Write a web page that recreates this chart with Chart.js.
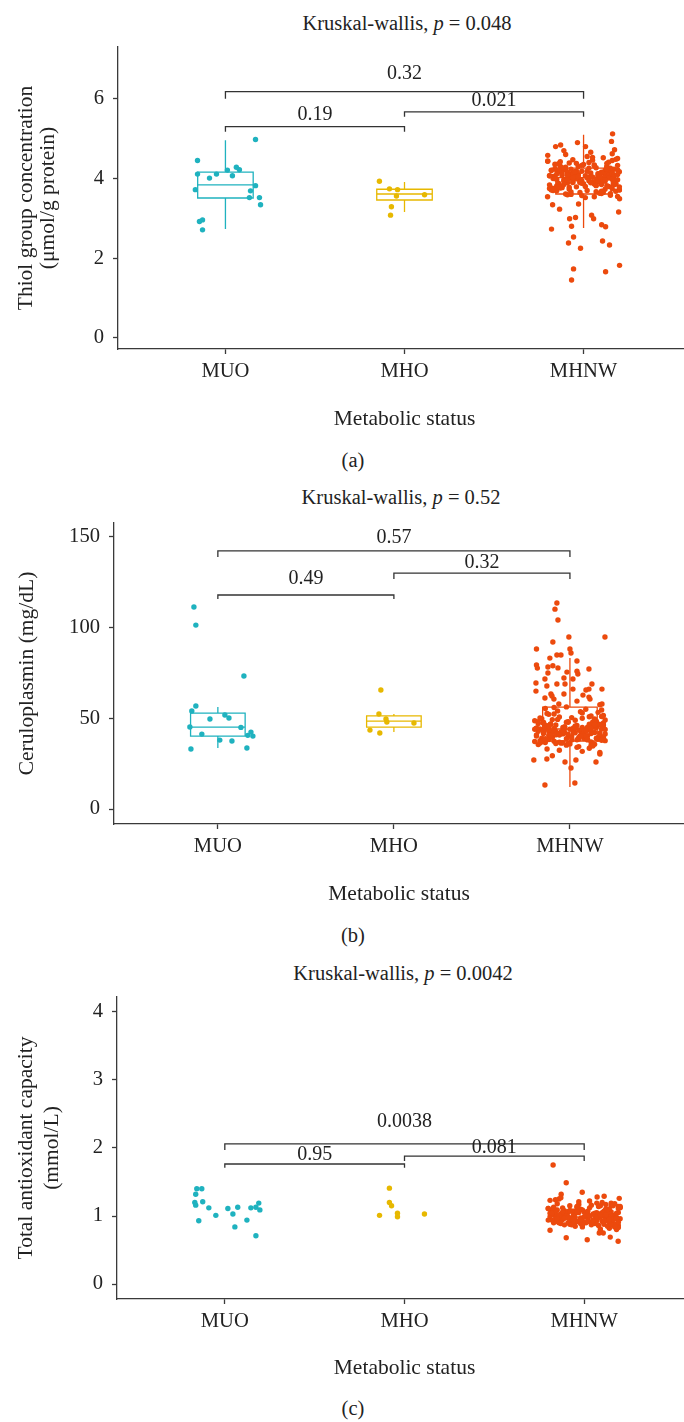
<!DOCTYPE html>
<html>
<head>
<meta charset="utf-8">
<script src="https://cdn.jsdelivr.net/npm/chart.js@4.4.1/dist/chart.umd.min.js"></script>
<style>
  html, body { margin: 0; background: #fff; overflow: hidden; }
  body { width: 684px; height: 1422px; position: relative; font-family: "Liberation Serif", serif; color: #222; }
  .t { position: absolute; font-size: 20.5px; line-height: 24px; white-space: nowrap; transform: translateX(-50%); }
  canvas { position: absolute; left: 0; }
</style>
</head>
<body>
<div class="t" style="left:407px; top:11px">Kruskal-wallis, <i>p</i> = 0.048</div>
<div class="t" style="left:353px; top:448px">(a)</div>
<div class="t" style="left:401px; top:485px">Kruskal-wallis, <i>p</i> = 0.52</div>
<div class="t" style="left:353px; top:923px">(b)</div>
<div class="t" style="left:403px; top:961px">Kruskal-wallis, <i>p</i> = 0.0042</div>
<div class="t" style="left:353px; top:1396px">(c)</div>

<canvas id="chart_thiol" width="700" height="440" style="top:0px"></canvas>
<canvas id="chart_cerulo" width="700" height="440" style="top:480px"></canvas>
<canvas id="chart_tac" width="700" height="440" style="top:950px"></canvas>

<script>
const GROUPS = ['MUO', 'MHO', 'MHNW'];
const COLORS = ['#1FB2BF', '#E7B800', '#EC4A0D'];
const INK = '#222';
const AXIS = '#3a3a3a';

// horizontal jitter used for the dense MHNW cloud (category units)
const JITTER = [
  -0.17, 0.05, 0.12, -0.08, 0.19, -0.02, 0.09, -0.14, 0.16, -0.11,
  0.02, 0.20, -0.05, 0.13, -0.19, 0.07, -0.09, 0.15, -0.01, 0.11,
  -0.15, 0.04, 0.18, -0.12, 0.08, -0.06, 0.14, -0.18, 0.01, 0.10,
  -0.03, 0.17, -0.13, 0.06, -0.20, 0.12, -0.07, 0.03, 0.19, -0.10,
  0.09, -0.16, 0.14, -0.04, 0.07, -0.12, 0.18, 0.00, -0.08, 0.15,
  -0.19, 0.11, -0.02, 0.16, -0.14, 0.05, -0.10, 0.13, -0.06, 0.20,
  0.03, -0.17, 0.08, -0.09, 0.17, -0.01, 0.12, -0.15, 0.06, -0.04,
  0.14, -0.11, 0.19, -0.07, 0.02, -0.18, 0.10, -0.03, 0.16, -0.13,
  0.07, -0.20, 0.13, -0.05, 0.09, -0.16, 0.18, -0.08, 0.04, -0.12,
  0.15, -0.01, 0.11, -0.14, 0.20, -0.06, 0.01, -0.19, 0.08, -0.10,
  0.17, -0.03, 0.05, -0.15, 0.12, -0.09, 0.19, -0.12, 0.02, -0.17,
  0.10, -0.07, 0.14, -0.02, 0.06, -0.13, 0.16, -0.05, 0.18, -0.11,
  -0.04, 0.13, -0.18, 0.09, -0.08, 0.03, -0.16, 0.15, -0.01, 0.07,
  -0.12, 0.19, -0.06, 0.11, -0.20, 0.04, -0.09, 0.17, -0.14, 0.00,
  0.12, -0.15, 0.06, -0.03, 0.18, -0.10, 0.08, -0.17, 0.14, -0.07,
  0.01, -0.13, 0.16, -0.05, 0.10, -0.19, 0.13, -0.02, 0.05, -0.11,
  0.19, -0.08, 0.03, -0.16, 0.11, -0.04, 0.15, -0.12, 0.07, -0.18,
  0.09, -0.06, 0.17, -0.14, 0.02, -0.09, 0.12, -0.01, 0.20, -0.15
];

// ---- (a) thiol group concentration ----
const THIOL_TICKS = [0, 2, 4, 6];
const THIOL_MUO_X = [0.168, -0.156, -0.156, -0.089, -0.05, 0.011, 0.039, 0.061, 0.078, -0.168, 0.168, 0.14, 0.134, 0.19, 0.196, -0.145, -0.128, -0.128];
const THIOL_MUO = [4.98, 4.45, 4.11, 4.01, 4.11, 4.21, 4.07, 4.28, 4.22, 3.72, 3.82, 3.69, 3.52, 3.52, 3.34, 2.92, 2.96, 2.71];
const THIOL_MHO_X = [-0.14, -0.084, -0.039, -0.045, 0.112, -0.073, -0.078];
const THIOL_MHO = [3.93, 3.74, 3.72, 3.56, 3.59, 3.29, 3.08];
const THIOL_MHNW_X = [-0.179, -0.173, -0.134, -0.078, -0.045, -0.067, -0.056, -0.084, -0.017, -0.028, 0.045, 0.056, 0.101, 0.123, 0.106, 0.145, 0.196, 0.201, -0.056, -0.067, 0.123, 0.201, -0.201, 0.162, 0.156, -0.034, -0.128, -0.156, 0.173, 0.011];
const THIOL_MHNW = [2.73, 3.34, 3.23, 2.99, 3.02, 2.80, 2.53, 2.38, 2.25, 3.36, 3.08, 2.99, 2.84, 2.79, 2.43, 2.33, 3.16, 3.49, 1.73, 1.45, 1.66, 1.82, 3.54, 5.12, 4.93, 4.90, 4.84, 4.80, 4.72, 4.80];
const THIOL_MHNW_CORE = [
  4.05, 3.92, 4.21, 3.78, 4.33, 3.65, 4.12, 3.88, 4.45, 3.97,
  4.18, 3.71, 4.02, 4.38, 3.84, 4.27, 3.59, 4.09, 3.95, 4.52,
  3.81, 4.14, 3.68, 4.24, 4.01, 3.90, 4.41, 3.76, 4.07, 3.62,
  4.30, 3.99, 4.16, 3.86, 4.58, 3.73, 4.11, 4.03, 3.55, 4.22,
  3.94, 4.36, 3.80, 4.19, 3.67, 4.08, 4.48, 3.87, 4.00, 4.26,
  3.75, 4.13, 3.96, 4.62, 3.83, 4.04, 3.61, 4.29, 3.91, 4.17,
  4.40, 3.70, 4.06, 3.89, 4.23, 3.57, 4.10, 3.98, 4.34, 3.79,
  4.15, 3.93, 4.50, 3.66, 4.02, 4.20, 3.85, 4.09, 3.74, 4.31,
  3.97, 4.43, 3.82, 4.12, 3.63, 4.25, 3.95, 4.05, 4.66, 3.77,
  4.19, 3.88, 4.01, 4.37, 3.72, 4.14, 3.52, 4.07, 3.92, 4.28,
  3.84, 4.10, 4.46, 3.69, 4.03, 3.96, 4.22, 3.81, 4.55, 4.00,
  4.16, 3.60, 4.08, 3.90, 4.32, 3.76, 4.13, 4.04, 3.86, 4.70,
  3.99, 4.24, 3.71, 4.11, 4.39, 3.94, 4.06, 3.58, 4.18, 3.83,
  4.27, 3.97, 4.02, 3.65, 4.44, 3.89, 4.15, 4.09, 3.78, 4.35,
  3.93, 4.20, 3.54, 4.05, 3.87, 4.60, 4.12, 3.75, 4.01, 4.23,
  3.80, 4.42, 3.98, 4.17, 3.68, 4.07, 4.30, 3.91, 4.53, 3.85,
  4.10, 3.73, 4.26, 4.00, 3.95, 4.38, 3.62, 4.14, 3.82, 4.21,
  4.04, 4.47, 3.88, 4.19, 3.70, 4.08, 3.96, 4.33, 3.79, 4.11
];
// [lower whisker, Q1, median, Q3, upper whisker]
const THIOL_BOX = [[2.73, 3.51, 3.84, 4.16, 4.96], [3.16, 3.46, 3.61, 3.73, 3.91], [2.76, 3.61, 4.02, 4.26, 5.10]];
const THIOL_PAIRS = [
  { from: 1, to: 3, y: 6.18, tip: 6.0, ly: 6.63, p: '0.32' },
  { from: 1, to: 2, y: 5.30, tip: 5.17, ly: 5.60, p: '0.19' },
  { from: 2, to: 3, y: 5.67, tip: 5.55, ly: 5.95, p: '0.021' }
];

// ---- (b) ceruloplasmin ----
const CERULO_TICKS = [0, 50, 100, 150];
const CERULO_MUO_X = [-0.136, -0.125, 0.148, -0.125, -0.148, -0.045, 0.04, 0.063, -0.159, 0.131, -0.091, 0.188, 0.17, 0.199, 0.011, 0.08, -0.153, 0.165];
const CERULO_MUO = [111.4, 101.4, 73.3, 56.8, 54.0, 49.6, 51.8, 50.2, 45.2, 45.0, 41.3, 42.4, 40.6, 40.2, 38.0, 37.5, 33.1, 33.6];
const CERULO_MHO_X = [-0.074, -0.085, -0.045, -0.04, 0.114, -0.136, -0.08];
const CERULO_MHO = [65.6, 52.4, 49.6, 48.0, 47.4, 43.5, 41.9];
const CERULO_MHNW_X = [-0.074, -0.085, -0.068, -0.006, 0.199, -0.097, -0.19, 0.0, 0.006, -0.074, -0.051, -0.114, 0.04, -0.19, -0.185, -0.125, -0.097, -0.068, 0.108, -0.017, 0.04, 0.045, -0.125, -0.142, -0.034, 0.017, -0.193, -0.193, -0.131, -0.074, -0.028, 0.125, 0.017, 0.091, 0.108, 0.182, -0.108, -0.102, -0.034, -0.142, -0.091, 0.04, 0.074, 0.108, 0.114, 0.182, 0.17, -0.063, -0.205, -0.131, -0.028, 0.034, 0.148, 0.006, -0.142, 0.028];
const CERULO_MHNW = [113.6, 110.2, 104.2, 94.8, 94.8, 92.1, 88.2, 88.2, 86.0, 84.9, 84.9, 83.2, 81.6, 79.4, 77.7, 78.3, 79.0, 77.8, 77.2, 75.5, 76.0, 74.4, 75.0, 71.7, 72.2, 71.7, 69.5, 65.0, 67.8, 68.9, 68.9, 68.9, 66.1, 65.6, 66.1, 66.1, 63.4, 62.3, 63.4, 61.2, 60.6, 59.5, 62.8, 61.7, 60.6, 57.9, 57.5, 57.9, 27.0, 27.6, 25.9, 27.0, 25.9, 22.6, 13.2, 14.3];
const CERULO_MHNW_CORE = [
  44.2, 38.6, 51.3, 41.0, 47.5, 35.2, 43.1, 55.4, 39.3, 46.7,
  42.4, 49.1, 36.3, 45.6, 40.2, 53.0, 37.4, 44.8, 48.2, 33.5,
  41.7, 46.1, 39.8, 52.2, 43.6, 36.9, 47.0, 42.9, 50.4, 38.1,
  45.3, 31.2, 44.5, 40.6, 48.7, 37.0, 54.1, 42.0, 46.4, 39.5,
  43.3, 49.8, 35.7, 41.4, 45.0, 38.3, 51.0, 44.0, 36.1, 47.2,
  40.9, 43.8, 56.3, 39.0, 46.0, 34.4, 42.6, 48.0, 41.2, 37.7,
  45.8, 50.2, 38.9, 44.4, 30.3, 47.8, 41.6, 43.0, 53.6, 36.5,
  42.2, 46.9, 39.6, 49.4, 44.7, 35.5, 40.4, 45.2, 38.4, 52.7,
  43.5, 37.2, 47.4, 41.8, 55.0, 39.1, 44.1, 46.3, 34.0, 42.7,
  48.4, 40.0, 45.5, 36.7, 43.9, 50.7, 38.0, 44.6, 41.1, 29.4,
  46.6, 42.1, 39.4, 47.6, 35.0, 44.3, 51.6, 40.7, 43.4, 37.6,
  45.1, 41.5, 49.6, 38.7, 43.2, 33.1, 46.2, 42.5, 54.6, 39.7,
  44.9, 36.0, 47.1, 40.3, 42.8, 48.9, 37.3, 45.7, 41.3, 50.0,
  43.7, 39.2, 32.4, 46.8, 44.0, 38.2, 52.4, 41.9, 45.4, 35.9,
  42.3, 47.3, 40.1, 44.2, 37.9, 49.3, 43.0, 36.4, 46.5, 41.6,
  39.9, 45.9, 53.3, 42.4, 38.5, 44.5, 34.7, 47.9, 43.6, 40.5,
  46.1, 41.0, 44.8, 37.1, 50.9, 42.8, 39.0, 45.3, 31.8, 48.1,
  43.1, 40.8, 46.6, 38.8, 42.0, 56.0, 44.4, 36.2, 41.4, 47.7
];
const CERULO_BOX = [[33.6, 40.2, 45.2, 52.9, 56.2], [42.4, 45.2, 48.5, 51.3, 52.4], [12.1, 37.5, 44.1, 56.2, 83.2]];
const CERULO_PAIRS = [
  { from: 1, to: 3, y: 142.3, tip: 139.0, ly: 149.4, p: '0.57' },
  { from: 1, to: 2, y: 118.0, tip: 115.8, ly: 126.8, p: '0.49' },
  { from: 2, to: 3, y: 130.1, tip: 126.8, ly: 135.7, p: '0.32' }
];

// ---- (c) total antioxidant capacity ----
const TAC_TICKS = [0, 1, 2, 3, 4];
const TAC_MUO_X = [-0.156, -0.128, -0.162, -0.167, -0.162, -0.123, -0.089, -0.05, -0.145, 0.017, 0.045, 0.072, 0.056, 0.123, 0.145, 0.173, 0.189, 0.195, 0.173];
const TAC_MUO = [1.40, 1.40, 1.32, 1.20, 1.16, 1.21, 1.12, 1.01, 0.93, 1.11, 1.03, 1.13, 0.84, 0.94, 1.12, 1.13, 1.19, 1.09, 0.71];
const TAC_MHO_X = [-0.084, -0.084, -0.072, -0.039, -0.039, -0.139, 0.111];
const TAC_MHO = [1.41, 1.20, 1.15, 1.04, 0.99, 1.01, 1.03];
const TAC_MHNW_X = [-0.173, -0.1, -0.128, -0.011, 0.195, 0.072, 0.111, -0.1, 0.017, 0.189, 0.145, 0.106, 0.084];
const TAC_MHNW = [1.75, 1.49, 1.32, 1.35, 1.26, 1.28, 1.29, 0.68, 0.65, 0.63, 0.69, 0.75, 0.75];
const TAC_MHNW_CORE = [
  1.02, 0.94, 1.10, 0.88, 1.05, 0.97, 1.15, 0.91, 1.01, 1.08,
  0.96, 1.12, 0.85, 1.03, 0.99, 1.19, 0.90, 1.06, 0.93, 1.00,
  1.09, 0.87, 1.04, 0.95, 1.14, 0.98, 0.82, 1.07, 1.01, 0.92,
  1.17, 0.96, 1.03, 0.89, 1.11, 1.00, 0.94, 1.22, 0.86, 1.05,
  0.99, 1.08, 0.91, 1.13, 0.97, 1.02, 0.80, 1.06, 0.95, 1.16,
  1.04, 0.88, 1.10, 0.98, 1.25, 0.93, 1.01, 0.85, 1.07, 0.96,
  1.12, 0.90, 1.03, 0.99, 0.84, 1.09, 0.95, 1.18, 1.00, 0.92,
  1.06, 0.97, 1.14, 0.87, 1.02, 0.94, 1.20, 1.05, 0.89, 1.01,
  0.93, 1.11, 0.98, 1.04, 0.78, 1.08, 0.96, 1.15, 0.91, 1.03,
  1.00, 0.86, 1.07, 0.95, 1.13, 1.01, 0.90, 1.23, 0.97, 1.05,
  0.88, 1.09, 0.94, 1.02, 1.17, 0.99, 0.83, 1.06, 0.92, 1.12,
  1.04, 0.96, 1.10, 0.89, 1.01, 1.27, 0.95, 1.07, 0.98, 0.87,
  1.14, 0.93, 1.03, 0.81, 1.08, 1.00, 0.96, 1.19, 0.90, 1.05,
  0.97, 1.11, 0.88, 1.02, 0.94, 1.16, 1.06, 0.85, 1.01, 0.99,
  1.09, 0.92, 1.04, 1.21, 0.96, 1.00, 0.86, 1.13, 0.95, 1.07,
  1.02, 0.89, 1.15, 0.98, 1.05, 0.79, 1.10, 0.94, 1.03, 0.97,
  0.91, 1.08, 1.00, 1.24, 0.93, 1.06, 0.87, 1.12, 0.99, 1.04,
  1.01, 0.95, 1.18, 0.90, 1.07, 0.98, 1.02, 0.84, 1.14, 0.96
];
const TAC_PAIRS = [
  { from: 1, to: 3, y: 2.06, tip: 1.97, ly: 2.38, p: '0.0038' },
  { from: 1, to: 2, y: 1.765, tip: 1.71, ly: 1.90, p: '0.95' },
  { from: 2, to: 3, y: 1.88, tip: 1.81, ly: 2.00, p: '0.081' }
];

Chart.defaults.font.family = '"Liberation Serif", "Times New Roman", serif';
Chart.defaults.color = INK;

function jittered(cat, dx, ys) {
  return ys.map((v, i) => ({ x: cat + dx[i], y: v }));
}

// boxes under the points, significance brackets on top
const overlay = {
  id: 'overlay',
  beforeDatasetsDraw(chart, args, opts) {
    if (!opts.boxes) return;
    const { ctx, scales: { x, y } } = chart;
    ctx.save();
    ctx.lineWidth = 1.3;
    opts.boxes.forEach((b, i) => {
      const cx = x.getPixelForValue(i + 1);
      const hw = x.getPixelForValue(i + 1.155) - cx;
      const [lo, q1, med, q3, hi] = b.map(v => y.getPixelForValue(v));
      ctx.strokeStyle = COLORS[i];
      ctx.beginPath();
      ctx.rect(cx - hw, q3, hw * 2, q1 - q3);
      ctx.moveTo(cx - hw, med); ctx.lineTo(cx + hw, med);
      ctx.moveTo(cx, q3); ctx.lineTo(cx, hi);
      ctx.moveTo(cx, q1); ctx.lineTo(cx, lo);
      ctx.stroke();
    });
    ctx.restore();
  },
  afterDatasetsDraw(chart, args, opts) {
    const { ctx, scales: { x, y } } = chart;
    ctx.save();
    ctx.strokeStyle = '#333';
    ctx.lineWidth = 1.3;
    ctx.fillStyle = INK;
    ctx.font = '20px "Liberation Serif", serif';
    ctx.textAlign = 'center';
    ctx.textBaseline = 'middle';
    opts.pairs.forEach(s => {
      const x1 = x.getPixelForValue(s.from), x2 = x.getPixelForValue(s.to);
      const yl = y.getPixelForValue(s.y), yt = y.getPixelForValue(s.tip);
      ctx.beginPath();
      ctx.moveTo(x1, yt); ctx.lineTo(x1, yl); ctx.lineTo(x2, yl); ctx.lineTo(x2, yt);
      ctx.stroke();
      ctx.fillText(s.p, (x1 + x2) / 2, y.getPixelForValue(s.ly));
    });
    ctx.restore();
  }
};

function drawPanel(id, cfg) {
  new Chart(document.getElementById(id), {
    type: 'scatter',
    data: {
      datasets: cfg.sets.map((pts, i) => ({
        label: GROUPS[i],
        data: pts,
        backgroundColor: COLORS[i],
        borderWidth: 0,
        pointRadius: 2.7,
        pointHoverRadius: 2.7,
        clip: false
      }))
    },
    options: {
      responsive: false,
      animation: false,
      devicePixelRatio: 1,
      layout: { padding: { top: cfg.padTop, bottom: cfg.padBottom, left: 0, right: cfg.padRight } },
      plugins: {
        legend: { display: false },
        tooltip: { enabled: false },
        overlay: { boxes: cfg.boxes, pairs: cfg.pairs }
      },
      scales: {
        x: {
          type: 'linear',
          min: cfg.xMin,
          max: cfg.xMax,
          afterBuildTicks: s => { s.ticks = [1, 2, 3].map(v => ({ value: v })); },
          afterFit: s => { s.height = cfg.xH; },
          ticks: { callback: v => GROUPS[v - 1], padding: 5, color: INK, font: { size: 20.6 }, maxRotation: 0 },
          grid: { drawOnChartArea: false, tickLength: 5, tickColor: AXIS, tickWidth: 1.3 },
          border: { color: AXIS, width: 1.3 },
          title: { display: true, text: 'Metabolic status', color: INK, font: { size: 21.5 }, padding: 0 }
        },
        y: {
          min: cfg.yMin,
          max: cfg.yMax,
          afterBuildTicks: s => { s.ticks = cfg.ticks.map(v => ({ value: v })); },
          afterFit: s => { s.width = cfg.yW; },
          ticks: { padding: 9, color: INK, font: { size: 20.6 } },
          grid: { drawOnChartArea: false, tickLength: 5, tickColor: AXIS, tickWidth: 1.3 },
          border: { color: AXIS, width: 1.3 },
          title: {
            display: true, text: cfg.yTitle, color: INK,
            font: { size: 21.5, lineHeight: cfg.titleLH },
            padding: { top: cfg.titlePad, bottom: 0 }
          }
        }
      }
    },
    plugins: [overlay]
  });
}

document.addEventListener('DOMContentLoaded', function () {
  drawPanel('chart_thiol', {
    sets: [
      jittered(1, THIOL_MUO_X, THIOL_MUO),
      jittered(2, THIOL_MHO_X, THIOL_MHO),
      jittered(3, THIOL_MHNW_X, THIOL_MHNW).concat(jittered(3, JITTER, THIOL_MHNW_CORE))
    ],
    boxes: THIOL_BOX, pairs: THIOL_PAIRS, ticks: THIOL_TICKS,
    yMin: -0.28, yMax: 7.3, xMin: 0.4, xMax: 3.6,
    padTop: 47, padBottom: 8, padRight: 9, xH: 83, yW: 118,
    yTitle: ['Thiol group concentration', '(\u03bcmol/g protein)'], titleLH: 1.06, titlePad: 14.6
  });

  drawPanel('chart_cerulo', {
    sets: [
      jittered(1, CERULO_MUO_X, CERULO_MUO),
      jittered(2, CERULO_MHO_X, CERULO_MHO),
      jittered(3, CERULO_MHNW_X, CERULO_MHNW).concat(jittered(3, JITTER, CERULO_MHNW_CORE))
    ],
    boxes: CERULO_BOX, pairs: CERULO_PAIRS, ticks: CERULO_TICKS,
    yMin: -8.27, yMax: 157.7, xMin: 0.41, xMax: 3.648,
    padTop: 43, padBottom: 13, padRight: 16, xH: 83, yW: 114,
    yTitle: 'Ceruloplasmin (mg/dL)', titleLH: 1.2, titlePad: 14
  });

  drawPanel('chart_tac', {
    sets: [
      jittered(1, TAC_MUO_X, TAC_MUO),
      jittered(2, TAC_MHO_X, TAC_MHO),
      jittered(3, TAC_MHNW_X, TAC_MHNW).concat(jittered(3, JITTER, TAC_MHNW_CORE))
    ],
    boxes: null, pairs: TAC_PAIRS, ticks: TAC_TICKS,
    yMin: -0.22, yMax: 4.22, xMin: 0.4, xMax: 3.6,
    padTop: 47, padBottom: 9, padRight: 8, xH: 82, yW: 117,
    yTitle: ['Total antioxidant capacity', '(mmol/L)'], titleLH: 1.21, titlePad: 13.5
  });
});
</script>
</body>
</html>
